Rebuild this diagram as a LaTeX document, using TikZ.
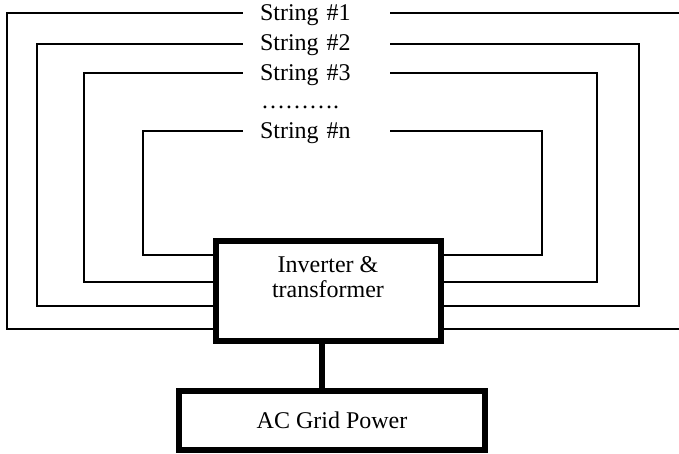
\documentclass[tikz,border=0pt]{standalone}
\usepackage{fontspec}
\setmainfont{Liberation Serif}
\usetikzlibrary{positioning}

\tikzset{
  wire/.style={line width=2pt,line cap=rect},
  boxline/.style={draw,line width=5.5pt,inner sep=0pt,fill=white},
  strlabel/.style={text width=113pt,align=left,inner xsep=18pt,inner ysep=0pt,
                   text height=16pt,text depth=2pt},
  txt/.style={font=\fontsize{24}{25}\selectfont}
}

\begin{document}
\begin{tikzpicture}[x=1pt,y=-1pt,txt]
  \useasboundingbox (0,0) rectangle (679,453);
  \clip (0,0) rectangle (679,453);
  % converter and grid blocks
  \node[boxline,minimum width=225pt,minimum height=100pt] (inv) at (328.5,291) {};
  \node[boxline,minimum width=306pt,minimum height=59pt] (grid) at (332,420.5) {AC Grid Power};
  % one loop per string, left and right half both run into the inverter
  \foreach \n/\yy/\xl/\xr/\yb in {1/13/7/690/329,2/43.5/37/639/306,
                                   3/73/84/597/282,n/131/143/542/255}{
    \node[strlabel] (s\n) at (316.5,\yy) {String \#\n};
    \draw[wire] (s\n.west) -| (\xl,\yb) -- (inv.west |- 0,\yb);
    \draw[wire] (s\n.east) -| (\xr,\yb) -- (inv.east |- 0,\yb);}
  \node[anchor=base] (dots) at (300,108) {……….};
  % redraw the inverter border over the wire ends
  \node[boxline,fill=none,minimum width=225pt,minimum height=100pt] at (inv.center) {};
  \node[align=center,inner sep=0pt] (invtext) at (328,277) {Inverter \&\\transformer};
  \draw[line width=5.5pt] ([xshift=-6.5pt]inv.south) -- ([xshift=-6.5pt]inv.south |- grid.north);
\end{tikzpicture}
\end{document}
